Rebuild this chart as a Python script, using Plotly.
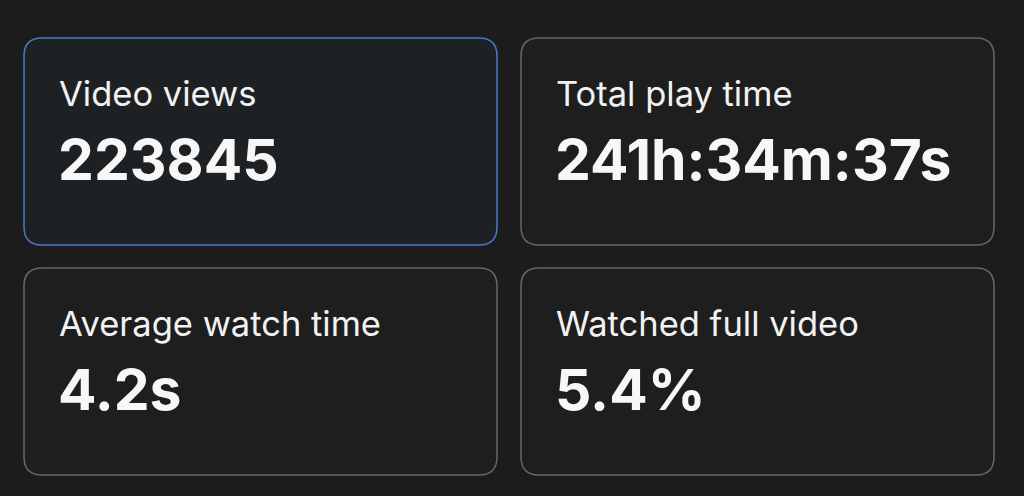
import plotly.graph_objects as go

# card contents
titles = ["Video views", "Total play time", "Average watch time", "Watched full video"]
values = ["223845", "241h:34m:37s", "4.2s", "5.4%"]
highlight = [True, False, False, False]

W, H = 1024, 496
col_x = [24, 521]
row_y = [38, 268]
card_w, card_h, r = 473, 207, 18

font_family = "Inter, Roboto, 'Noto Sans', sans-serif"


def rounded_rect(x0, y0, x1, y1, r):
    return (f"M {x0+r},{y0} L {x1-r},{y0} Q {x1},{y0} {x1},{y0+r} "
            f"L {x1},{y1-r} Q {x1},{y1} {x1-r},{y1} "
            f"L {x0+r},{y1} Q {x0},{y1} {x0},{y1-r} "
            f"L {x0},{y0+r} Q {x0},{y0} {x0+r},{y0} Z")


fig = go.Figure()

shapes = []
annotations = []
for i, (t, v) in enumerate(zip(titles, values)):
    x0 = col_x[i % 2]
    y0 = row_y[i // 2]
    if highlight[i]:
        fill, line = "#1e2124", "#4a78c8"
    else:
        fill, line = "#1e1e1e", "#676767"
    shapes.append(dict(type="path", xref="x", yref="y",
                       path=rounded_rect(x0, y0, x0 + card_w, y0 + card_h, r),
                       fillcolor=fill, line=dict(color=line, width=1.5), layer="below"))
    annotations.append(dict(x=x0 + 33, y=y0 + 55, xref="x", yref="y", text=t,
                            showarrow=False, xanchor="left", yanchor="middle",
                            font=dict(family=font_family, size=34.5, color="#f2f2f2")))
    annotations.append(dict(x=x0 + 32, y=y0 + 121, xref="x", yref="y", text=v,
                            showarrow=False, xanchor="left", yanchor="middle",
                            font=dict(family=font_family, size=57, color="#f7f7f7", weight=700)))

fig.update_layout(
    width=W, height=H,
    margin=dict(l=0, r=0, t=0, b=0),
    paper_bgcolor="#1c1c1c", plot_bgcolor="#1c1c1c",
    xaxis=dict(range=[0, W], visible=False, fixedrange=True),
    yaxis=dict(range=[H, 0], visible=False, fixedrange=True),
    shapes=shapes, annotations=annotations,
    showlegend=False,
)

fig.write_html("out.html", config={"displayModeBar": False},
               post_script="document.body.style.margin='0';document.body.style.overflow='hidden';")
